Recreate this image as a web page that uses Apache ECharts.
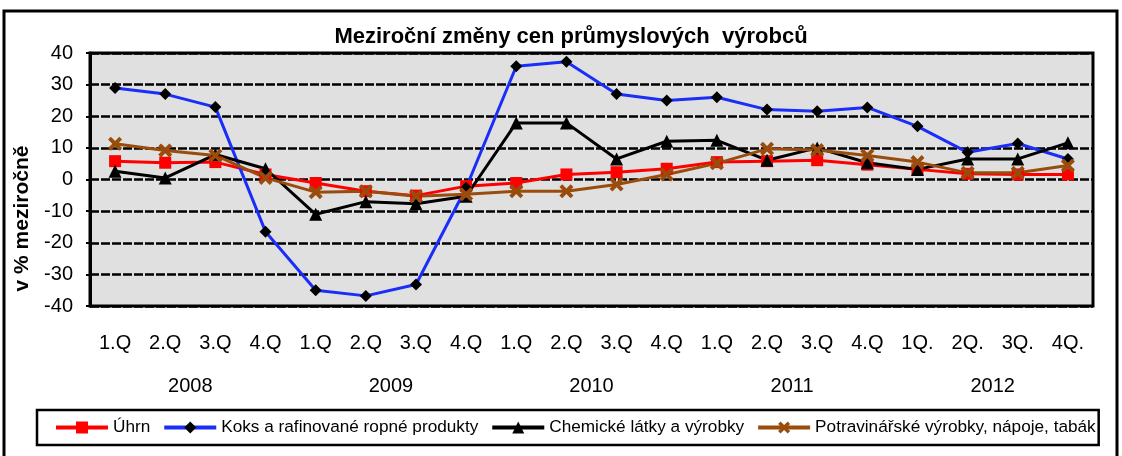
<!DOCTYPE html>
<html>
<head>
<meta charset="utf-8">
<script src="https://cdn.jsdelivr.net/npm/echarts@6/dist/echarts.min.js"></script>
<style>
  html, body { margin: 0; padding: 0; background: #fff; }
  #chart { width: 1122px; height: 456px; }
</style>
</head>
<body>
<div id="chart"></div>
<script>
// quarters 2008 - 2012
const quarters = ['1.Q', '2.Q', '3.Q', '4.Q', '1.Q', '2.Q', '3.Q', '4.Q', '1.Q', '2.Q',
  '3.Q', '4.Q', '1.Q', '2.Q', '3.Q', '4.Q', '1Q.', '2Q.', '3Q.', '4Q.'];
const years = ['2008', '2009', '2010', '2011', '2012'];

const uhrn = [5.8, 5.3, 5.5, 1.6, -1.1, -3.7, -5.1, -2.1, -1.1, 1.6,
  2.3, 3.4, 5.5, 5.8, 6.1, 4.7, 3.2, 1.8, 1.6, 1.6];
const koks = [28.9, 27.0, 22.9, -16.5, -35.0, -36.8, -33.2, -2.6, 35.8, 37.2,
  27.0, 25.0, 26.0, 22.1, 21.6, 22.8, 16.8, 8.6, 11.4, 6.5];
const chemie = [2.6, 0.5, 7.9, 3.4, -11.0, -7.0, -7.7, -5.3, 17.9, 17.9,
  6.5, 12.1, 12.4, 6.1, 10.0, 5.3, 3.2, 6.5, 6.5, 11.6];
const potraviny = [11.3, 9.2, 7.6, 0.5, -4.0, -3.7, -5.3, -4.7, -3.7, -3.7,
  -1.6, 1.6, 5.1, 9.7, 9.3, 7.6, 5.5, 2.1, 2.1, 4.4];

const FONT = '"Liberation Sans", Arial, sans-serif';
const crossPath = 'path://M0,2 L2,0 L5,3 L8,0 L10,2 L7,5 L10,8 L8,10 L5,7 L2,10 L0,8 L3,5 Z';

const chart = echarts.init(document.getElementById('chart'), null, { renderer: 'canvas' });

function line(name, data, color, symbol, size, markColor) {
  return {
    name: name,
    type: 'line',
    data: data,
    symbol: symbol,
    symbolSize: size,
    showAllSymbol: true,
    lineStyle: { color: color, width: 3 },
    itemStyle: { color: markColor || color, borderWidth: 0 },
    emphasis: { disabled: true },
    animation: false
  };
}

chart.setOption({
  animation: false,
  textStyle: { fontFamily: FONT },
  title: {
    text: 'Meziroční změny cen průmyslových  výrobců',
    left: 566,
    top: 21,
    textAlign: 'center',
    textStyle: { fontFamily: FONT, fontSize: 22, fontWeight: 'bold', color: '#000' }
  },
  graphic: [{
    type: 'rect',
    shape: { x: 4, y: 11, width: 1113, height: 460 },
    style: { fill: 'none', stroke: '#000', lineWidth: 3 },
    silent: true
  }],
  legend: {
    left: 37,
    top: 410,
    orient: 'horizontal',
    borderColor: '#000',
    borderWidth: 2.5,
    backgroundColor: '#fff',
    padding: [9, 3, 9, 17],
    itemWidth: 52,
    itemHeight: 15,
    itemGap: 12,
    lineStyle: { width: 4 },
    textStyle: { fontFamily: FONT, fontSize: 17.2, color: '#000' },
    data: ['Úhrn', 'Koks a rafinované ropné produkty', 'Chemické látky a výrobky',
      'Potravinářské výrobky, nápoje, tabák']
  },
  grid: {
    left: 90, right: 29, top: 53, bottom: 150,
    show: true,
    backgroundColor: '#e0e0e0',
    borderColor: '#000',
    borderWidth: 3
  },
  xAxis: [{
    type: 'category',
    data: quarters,
    boundaryGap: true,
    axisLine: { show: false },
    axisTick: { show: false },
    axisLabel: { color: '#000', fontSize: 20, margin: 27, interval: 0, fontFamily: FONT }
  }, {
    type: 'category',
    data: years,
    position: 'bottom',
    offset: 43,
    axisLine: { show: false },
    axisTick: { show: false },
    splitLine: { show: false },
    axisLabel: { color: '#000', fontSize: 20, margin: 27, interval: 0, fontFamily: FONT }
  }],
  yAxis: {
    type: 'value',
    min: -40,
    max: 40,
    interval: 10,
    name: 'v % meziročně',
    nameLocation: 'middle',
    nameRotate: 90,
    nameGap: 46,
    nameTextStyle: { fontFamily: FONT, fontSize: 21, fontWeight: 'bold', color: '#000', padding: [0, 78, 0, 0] },
    axisLine: { show: true, lineStyle: { color: '#000', width: 3 } },
    axisTick: { show: true, length: 4, lineStyle: { color: '#000', width: 2 } },
    axisLabel: { color: '#000', fontSize: 20, margin: 17, fontFamily: FONT },
    splitLine: { show: true, lineStyle: { color: '#000', width: 2.5, type: [9, 2] } }
  },
  series: [
    line('Úhrn', uhrn, '#ff0000', 'rect', 12),
    line('Koks a rafinované ropné produkty', koks, '#1a2ef8', 'diamond', 12, '#000'),
    line('Chemické látky a výrobky', chemie, '#000', 'triangle', 13),
    line('Potravinářské výrobky, nápoje, tabák', potraviny, '#9a4c0d', crossPath, 14)
  ]
});
</script>
</body>
</html>
